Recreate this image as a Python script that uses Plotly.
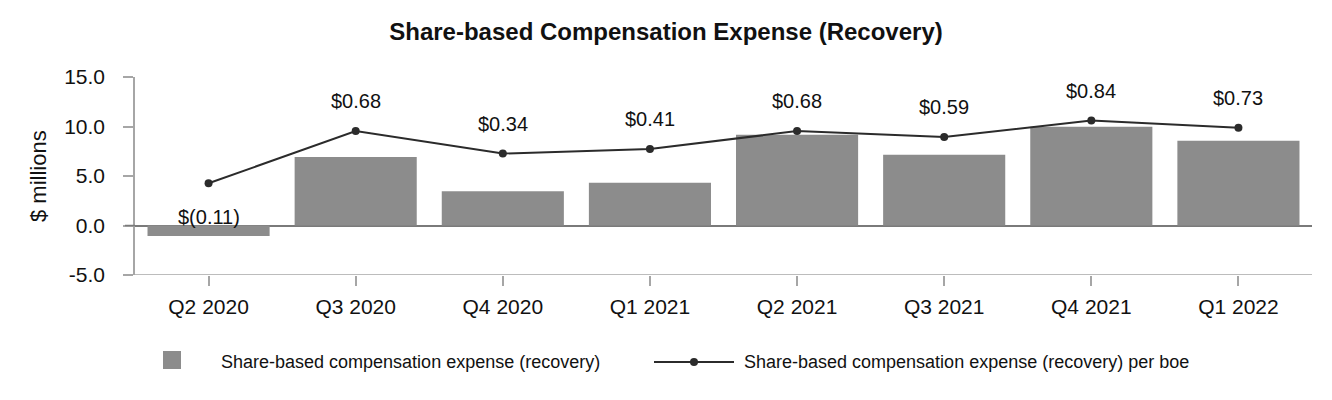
import plotly.graph_objects as go

# ---- data ----
quarters = ["Q2 2020", "Q3 2020", "Q4 2020", "Q1 2021", "Q2 2021", "Q3 2021", "Q4 2021", "Q1 2022"]
expense_millions = [-1.07, 6.91, 3.47, 4.31, 9.16, 7.14, 9.97, 8.56]
per_boe = [-0.11, 0.68, 0.34, 0.41, 0.68, 0.59, 0.84, 0.73]
per_boe_labels = ["$(0.11)", "$0.68", "$0.34", "$0.41", "$0.68", "$0.59", "$0.84", "$0.73"]
y_ticks = [-5.0, 0.0, 5.0, 10.0, 15.0]
y_tick_labels = ["-5.0", "0.0", "5.0", "10.0", "15.0"]

BAR_COLOR = "#8c8c8c"
LINE_COLOR = "#2b2b2b"
AXIS_COLOR = "#a6a6a6"
ZERO_COLOR = "#7a7a7a"
TEXT_COLOR = "#111111"
FONT = "Liberation Sans, Arial, sans-serif"

# the page body adds an 8px margin, so the figure is drawn 8px smaller
OFF = 8
W, H = 1332 - OFF, 400 - OFF
PLOT_L, PLOT_R, PLOT_T, PLOT_B = 135, 1312, 77, 275   # target window pixels
L, T = PLOT_L - OFF, PLOT_T - OFF
R = W - (PLOT_R - OFF)
B = H - (PLOT_B - OFF)
PW, PH = PLOT_R - PLOT_L, PLOT_B - PLOT_T

def px_x(x):
    return (x - PLOT_L) / PW

def px_y(y):
    return (PLOT_B - y) / PH

fig = go.Figure()
fig.add_trace(go.Bar(
    x=quarters, y=expense_millions, marker_color=BAR_COLOR,
    marker_line_width=0, name="Share-based compensation expense (recovery)",
    showlegend=False, yaxis="y",
))
fig.add_trace(go.Scatter(
    x=quarters, y=per_boe, mode="lines+markers",
    line=dict(color=LINE_COLOR, width=2), marker=dict(color=LINE_COLOR, size=8),
    name="Share-based compensation expense (recovery) per boe",
    showlegend=False, yaxis="y2",
))

annotations = []
for q, v, t in zip(quarters, per_boe, per_boe_labels):
    annotations.append(dict(
        x=q, y=v, xref="x", yref="y2", text=t, showarrow=False,
        yshift=30 if v >= 0 else -34,
        font=dict(family=FONT, size=20, color=TEXT_COLOR),
    ))

# manual legend (layout)
shapes = [
    dict(type="rect", xref="paper", yref="paper",
         x0=px_x(163), x1=px_x(181), y0=px_y(351), y1=px_y(369),
         fillcolor=BAR_COLOR, line_width=0),
    dict(type="line", xref="paper", yref="paper",
         x0=px_x(654), x1=px_x(734), y0=px_y(362), y1=px_y(362),
         line=dict(color=LINE_COLOR, width=2)),
    dict(type="circle", xref="paper", yref="paper",
         x0=px_x(690), x1=px_x(698), y0=px_y(358), y1=px_y(366),
         fillcolor=LINE_COLOR, line_width=0),
    # bottom axis line at the y-axis minimum, extended left like the tick
    dict(type="line", xref="paper", yref="y", x0=px_x(125), x1=1, y0=-5, y1=-5,
         line=dict(color=AXIS_COLOR, width=1.5)),
    dict(type="line", xref="paper", yref="y", x0=px_x(125), x1=0, y0=0, y1=0,
         line=dict(color=ZERO_COLOR, width=1.5)),
]
annotations.append(dict(
    x=px_x(219), y=px_y(362), xref="paper", yref="paper",
    xanchor="left", yanchor="middle", showarrow=False,
    text="Share-based compensation expense (recovery)",
    font=dict(family=FONT, size=18, color=TEXT_COLOR),
))
annotations.append(dict(
    x=px_x(742), y=px_y(362), xref="paper", yref="paper",
    xanchor="left", yanchor="middle", showarrow=False,
    text="Share-based compensation expense (recovery) per boe",
    font=dict(family=FONT, size=18, color=TEXT_COLOR),
))
# y-axis title
annotations.append(dict(
    x=px_x(38), y=px_y(176), xref="paper", yref="paper",
    xanchor="center", yanchor="middle", showarrow=False, textangle=-90,
    text="$ millions", font=dict(family=FONT, size=22, color=TEXT_COLOR),
))

fig.update_layout(
    width=W, height=H,
    margin=dict(l=L, r=R, t=T, b=B, pad=0),
    paper_bgcolor="white", plot_bgcolor="white",
    bargap=0.17,
    font=dict(family=FONT, size=21, color=TEXT_COLOR),
    title=dict(
        text="<b>Share-based Compensation Expense (Recovery)</b>",
        x=(666 - OFF) / W, xanchor="center", xref="container",
        y=1 - (32 - OFF) / H, yanchor="middle", yref="container",
        font=dict(family=FONT, size=24, color=TEXT_COLOR),
    ),
    xaxis=dict(
        type="category", showline=False, ticks="outside", ticklen=10,
        tickcolor=AXIS_COLOR, tickwidth=1.5, showgrid=False, zeroline=False,
        ticklabelstandoff=3,
        tickfont=dict(family=FONT, size=21, color=TEXT_COLOR),
    ),
    yaxis=dict(
        range=[-5, 15], tickvals=y_ticks, ticktext=y_tick_labels,
        showline=True, linecolor=AXIS_COLOR, linewidth=1.5,
        ticks="outside", ticklen=10, tickcolor=AXIS_COLOR, tickwidth=1.5,
        ticklabelstandoff=14,
        showgrid=False, zeroline=True, zerolinecolor=ZERO_COLOR, zerolinewidth=1.5,
        tickfont=dict(family=FONT, size=21, color=TEXT_COLOR),
    ),
    yaxis2=dict(range=[-1.5, 1.5], overlaying="y", visible=False),
    shapes=shapes,
    annotations=annotations,
)

fig.write_html("out.html")
